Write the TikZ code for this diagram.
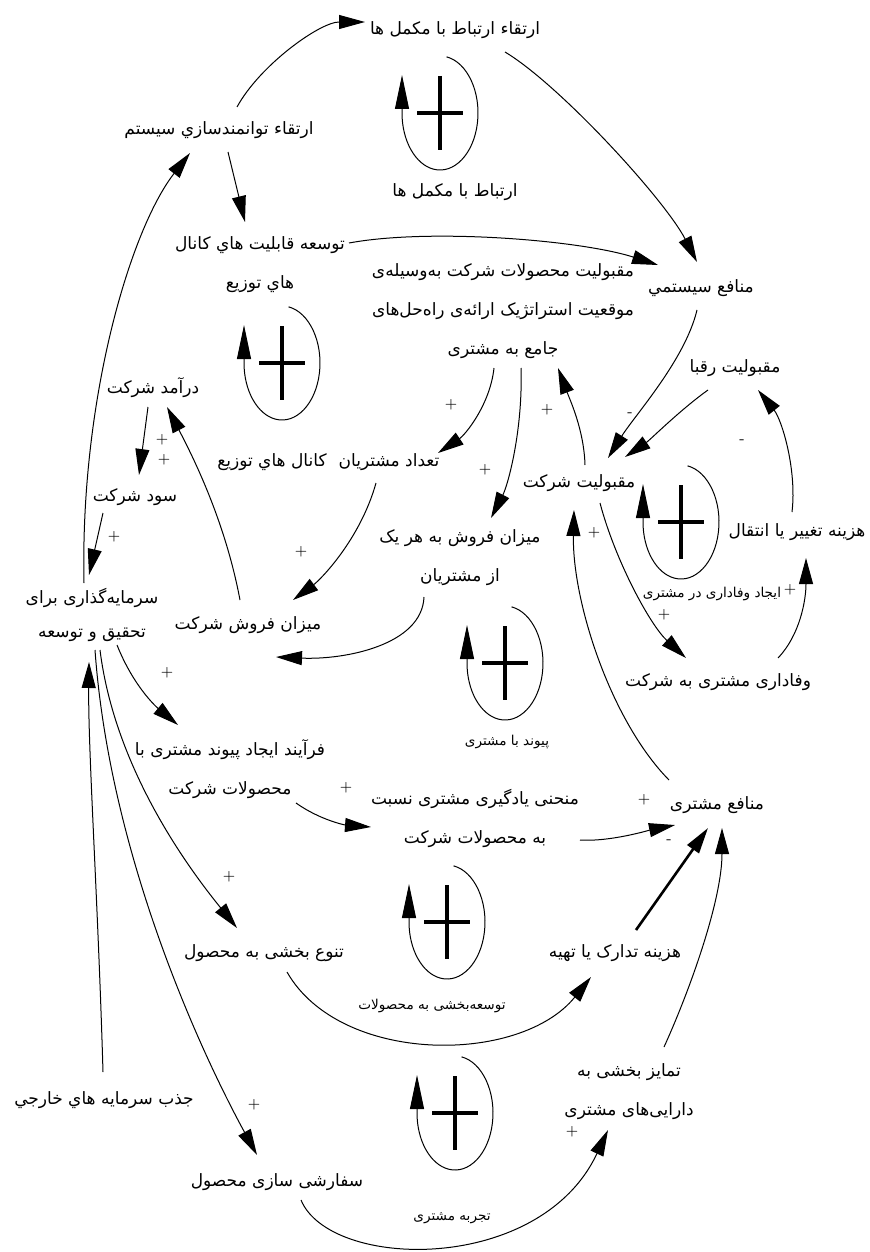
\documentclass[tikz,border=0pt]{standalone}
\usepackage{fontspec}
\usetikzlibrary{arrows.meta}
\newfontfamily\arabicfont[Script=Arabic]{DejaVu Sans}
\TeXXeTstate=1
\newcommand{\fa}[1]{\beginR #1\endR}
\begin{document}
\begin{tikzpicture}[x=0.5pt,y=-0.5pt,
  lbl/.style={font=\arabicfont\fontsize{8.5}{19.5}\selectfont, align=center, inner sep=1pt},
  sml/.style={font=\arabicfont\fontsize{6.8}{8}\selectfont, inner sep=1pt},
  arr/.style={line width=0.5pt, -{Triangle[length=13pt,width=7pt]}},
  thickarr/.style={line width=1.3pt, -{Triangle[length=13pt,width=7pt]}},
  pol/.style={font=\fontsize{7.5}{8}\selectfont, inner sep=0pt},
  loopsym/.pic={
    \draw[line width=0.5pt,-{Triangle[length=17pt,width=7pt]}]
      (-80:38 and 57) arc[start angle=-80,end angle=180,x radius=38,y radius=57] -- ++(0,-38);
    \draw[line width=1.6pt] (-23,0) -- (23,0) (0,-37) -- (0,37);
  }]
\fill[white] (0,0) rectangle (870,1252);
\useasboundingbox (0,0) rectangle (870,1252);

% ---- variables ----
\node[lbl] (rtm) at (455,30) {\fa{ارتقاء ارتباط با مکمل ها}};
\node[lbl] (tav) at (219,130) {\fa{ارتقاء توانمندسازي سیستم}};
\node[lbl] (tos) at (260,265) {\fa{توسعه قابلیت هاي کانال}\\\fa{هاي توزیع}};
\node[lbl] (mns) at (701,288) {\fa{منافع سیستمي}};
\node[lbl] (mq) at (503,311) {\fa{مقبولیت محصولات شرکت به‌وسیله‌ی}\\\fa{موقعیت استراتژیک ارائه‌ی راه‌حل‌های}\\\fa{جامع به مشتری}};
\node[lbl] (rqb) at (735,368) {\fa{مقبولیت رقبا}};
\node[lbl] (dar) at (153,388) {\fa{درآمد شرکت}};
\node[lbl] (sod) at (135,497) {\fa{سود شرکت}};
\node[lbl] (tad) at (389,462) {\fa{تعداد مشتریان}};
\node[lbl] (mqs) at (579,483) {\fa{مقبولیت شرکت}};
\node[lbl] (hzt) at (797,532) {\fa{هزینه تغییر یا انتقال}};
\node[lbl] (mfh) at (460,558) {\fa{میزان فروش به هر یک}\\\fa{از مشتریان}};
\node[lbl,font=\arabicfont\fontsize{8.5}{17}\selectfont] (sar) at (92,615) {\fa{سرمایه‌گذاری برای}\\\fa{تحقیق و توسعه}};
\node[lbl] (mfs) at (248,625) {\fa{میزان فروش شرکت}};
\node[lbl] (vaf) at (718,682) {\fa{وفاداری مشتری به شرکت}};
\node[lbl] (fra) at (230,769) {\fa{فرآیند ایجاد پیوند مشتری با}\\\fa{محصولات شرکت}};
\node[lbl] (mon) at (475,818) {\fa{منحنی یادگیری مشتری نسبت}\\\fa{به محصولات شرکت}};
\node[lbl] (mnm) at (717,805) {\fa{منافع مشتری}};
\node[lbl] (tan) at (264,953) {\fa{تنوع بخشی به محصول}};
\node[lbl] (hzd) at (615,953) {\fa{هزینه تدارک یا تهیه}};
\node[lbl] (jzb) at (104,1100) {\fa{جذب سرمایه هاي خارجي}};
\node[lbl] (saf) at (277,1182) {\fa{سفارشی سازی محصول}};
\node[lbl] (tam) at (629,1092) {\fa{تمایز بخشی به}\\\fa{دارایی‌های مشتری}};

% ---- loop symbols and names ----
\pic at (440,113) {loopsym};
\pic at (282,363) {loopsym};
\pic at (681,522) {loopsym};
\pic at (505,663) {loopsym};
\pic at (447,922) {loopsym};
\pic at (455,1113) {loopsym};
\node[lbl] (l1) at (455,192) {\fa{ارتباط با مکمل ها}};
\node[lbl] (l2) at (272,462) {\fa{کانال هاي توزیع}};
\node[sml] (l3) at (712,594) {\fa{ایجاد وفاداری در مشتری}};
\node[sml] (l4) at (507,742) {\fa{پیوند با مشتری}};
\node[sml] (l5) at (432,1006) {\fa{توسعه‌بخشی به محصولات}};
\node[sml] (l6) at (452,1218) {\fa{تجربه مشتری}};

% ---- connectors ----
\draw[arr] ([shift={(18,-23)}]tav.center) .. controls (260,65) and (320,22) .. ([shift={(-90,-8)}]rtm.center);
\draw[arr] ([shift={(50,22)}]rtm.center) .. controls (560,85) and (665,200) .. ([shift={(-4,-26)}]mns.center);
\draw[arr] ([shift={(9,22)}]tav.center) -- ([shift={(-15,-43)}]tos.center);
\draw[arr] ([shift={(-8,-32)}]sar.center) .. controls (80,400) and (130,230) .. ([shift={(-29,23)}]tav.center);
\draw[arr] ([shift={(89,-22)}]tos.center) .. controls (430,228) and (580,240) .. ([shift={(-43,-23)}]mns.center);
\draw[arr] ([shift={(-4,22)}]mns.center) .. controls (685,360) and (635,415) .. ([shift={(29,-25)}]mqs.center);
\draw[arr] ([shift={(-27,22)}]rqb.center) .. controls (680,410) and (650,440) .. ([shift={(46,-26)}]mqs.center);
\draw[arr] ([shift={(-5,-20)}]hzt.center) .. controls (797,470) and (782,420) .. ([shift={(23,22)}]rqb.center);
\draw[arr] ([shift={(60,-24)}]vaf.center) .. controls (800,635) and (806,600) .. ([shift={(9,26)}]hzt.center);
\draw[arr] ([shift={(21,20)}]mqs.center) .. controls (615,560) and (650,625) .. ([shift={(-32,-24)}]vaf.center);
\draw[arr] ([shift={(-9,57)}]mq.center) .. controls (490,405) and (465,435) .. ([shift={(49,-9)}]tad.center);
\draw[arr] ([shift={(18,57)}]mq.center) .. controls (523,430) and (508,485) .. ([shift={(31,-40)}]mfh.center);
\draw[arr] ([shift={(6,-18)}]mqs.center) .. controls (584,430) and (570,400) .. ([shift={(55,57)}]mq.center);
\draw[arr] ([shift={(-48,-25)}]mnm.center) .. controls (610,720) and (572,600) .. ([shift={(-5,27)}]mqs.center);
\draw[arr] ([shift={(-13,21)}]tad.center) .. controls (360,540) and (320,580) .. ([shift={(45,-25)}]mfs.center);
\draw[arr] ([shift={(-36,39)}]mfh.center) .. controls (422,645) and (345,660) .. ([shift={(28,32)}]mfs.center);
\draw[arr] ([shift={(-8,-25)}]mfs.center) .. controls (225,520) and (192,455) .. ([shift={(14,19)}]dar.center);
\draw[arr] ([shift={(-5,19)}]dar.center) -- ([shift={(4,-22)}]sod.center);
\draw[arr] ([shift={(-32,16)}]sod.center) -- ([shift={(-3,-40)}]sar.center);
\draw[arr] ([shift={(25,30)}]sar.center) .. controls (135,690) and (160,710) .. ([shift={(-52,-44)}]fra.center);
\draw[arr] ([shift={(66,34)}]fra.center) .. controls (320,820) and (345,825) .. ([shift={(-104,9)}]mon.center);
\draw[arr] ([shift={(105,22)}]mon.center) .. controls (610,842) and (650,830) .. ([shift={(-42,20)}]mnm.center);
\draw[arr] ([shift={(8,35)}]sar.center) .. controls (115,770) and (190,870) .. ([shift={(-27,-25)}]tan.center);
\draw[arr] ([shift={(3,35)}]sar.center) .. controls (110,860) and (205,1060) .. ([shift={(-20,-27)}]saf.center);
\draw[arr] ([shift={(-1,-28)}]jzb.center) .. controls (98,900) and (88,750) .. ([shift={(-3,47)}]sar.center);
\draw[arr] ([shift={(23,19)}]tan.center) .. controls (340,1065) and (520,1065) .. ([shift={(-24,24)}]hzd.center);
\draw[thickarr] ([shift={(21,-23)}]hzd.center) -- ([shift={(-9,23)}]mnm.center);
\draw[arr] ([shift={(35,-45)}]tam.center) .. controls (690,990) and (722,900) .. ([shift={(5,23)}]mnm.center);
\draw[arr] ([shift={(24,18)}]saf.center) .. controls (330,1270) and (540,1275) .. ([shift={(-21,38)}]tam.center);

% ---- polarities ----
\node[pol] (p1) at (630,415) {-};
\node[pol] (p2) at (742,442) {-};
\node[pol] (p3) at (451,405) {+};
\node[pol] (p4) at (547,410) {+};
\node[pol] (p5) at (485,470) {+};
\node[pol] (p6) at (162,440) {+};
\node[pol] (p7) at (164,460) {+};
\node[pol] (p8) at (114,537) {+};
\node[pol] (p9) at (301,552) {+};
\node[pol] (p10) at (594,533) {+};
\node[pol] (p11) at (790,590) {+};
\node[pol] (p12) at (664,615) {+};
\node[pol] (p13) at (167,673) {+};
\node[pol] (p14) at (346,788) {+};
\node[pol] (p15) at (644,800) {+};
\node[pol] (p16) at (669,842) {-};
\node[pol] (p17) at (229,877) {+};
\node[pol] (p18) at (254,1105) {+};
\node[pol] (p19) at (572,1132) {+};
\end{tikzpicture}
\end{document}
